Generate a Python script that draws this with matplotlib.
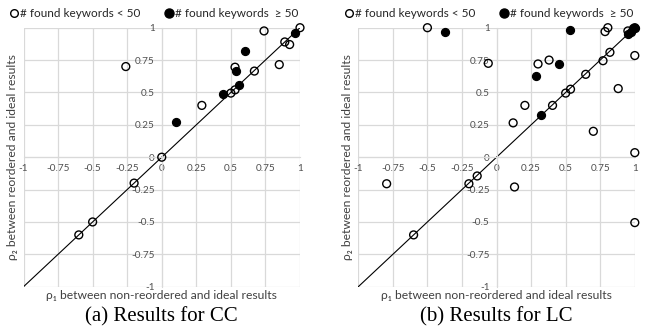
import matplotlib
matplotlib.use("Agg")
import matplotlib.pyplot as plt
from matplotlib.lines import Line2D

plt.rcParams['font.family'] = ['Lato', 'DejaVu Sans']

ticks = [-1, -0.75, -0.5, -0.25, 0, 0.25, 0.5, 0.75, 1]
tick_labels = ['-1', '-0.75', '-0.5', '-0.25', '0', '0.25', '0.5', '0.75', '1']

# CC panel
cc_open_x = [0.0, -0.2, -0.5, -0.6, -0.26, 0.29, 0.5, 0.53, 0.53, 0.67, 0.74, 0.85, 0.89, 0.925, 1.0]
cc_open_y = [0.0, -0.2, -0.5, -0.6, 0.70, 0.40, 0.495, 0.52, 0.695, 0.665, 0.975, 0.715, 0.89, 0.87, 1.0]
cc_fill_x = [0.10, 0.445, 0.54, 0.56, 0.60, 0.965]
cc_fill_y = [0.27, 0.49, 0.665, 0.555, 0.82, 0.96]

# LC panel
lc_open_x = [-0.5, -0.06, 0.12, 0.205, 0.30, 0.38, 0.405, 0.50, 0.535, 0.645, 0.70, 0.77, 0.785, 0.805,
             0.82, 0.88, 0.95, 1.0, 1.0, 1.0, -0.795, -0.2, -0.14, 0.13, -0.6, 1.0]
lc_open_y = [1.0, 0.725, 0.265, 0.40, 0.72, 0.75, 0.40, 0.495, 0.525, 0.64, 0.20, 0.745, 0.97, 1.0,
             0.81, 0.53, 0.975, 0.785, 0.035, 1.0, -0.205, -0.205, -0.145, -0.23, -0.6, -0.505]
lc_fill_x = [-0.375, 0.285, 0.32, 0.45, 0.53, 0.95, 0.975, 0.99, 1.0]
lc_fill_y = [0.97, 0.625, 0.325, 0.72, 0.985, 0.95, 0.965, 0.995, 1.0]

panels = [
    ("(a) Results for CC", cc_open_x, cc_open_y, cc_fill_x, cc_fill_y, 23.5),
    ("(b) Results for LC", lc_open_x, lc_open_y, lc_fill_x, lc_fill_y, 358.3),
]

W, H = 647, 329
fig = plt.figure(figsize=(W / 100, H / 100), dpi=100)

grid_c = '#d9d9d9'
for caption, ox, oy, fx, fy, left_px in panels:
    ax = fig.add_axes([left_px / W, 1 - 286.7 / H, 276.5 / W, 259 / H])
    ax.set_xlim(-1, 1)
    ax.set_ylim(-1, 1)
    ax.set_xticks(ticks)
    ax.set_yticks(ticks)
    ax.set_xticklabels(tick_labels)
    ax.set_yticklabels(tick_labels)
    ax.grid(True, color=grid_c, linewidth=0.9)
    ax.set_axisbelow(True)
    for s in ['top', 'right']:
        ax.spines[s].set_visible(False)
    ax.spines['left'].set_position('zero')
    ax.spines['bottom'].set_position('zero')
    ax.spines['left'].set_color(grid_c)
    ax.spines['bottom'].set_color(grid_c)
    ax.tick_params(length=0, labelsize=7.2, colors='#505050', pad=5)
    ax.plot([-1, 1], [-1, 1], color='black', linewidth=0.8, zorder=2)
    ax.scatter(fx, fy, s=32, facecolor='black', edgecolor='black', linewidth=1.0, zorder=3, clip_on=False)
    ax.scatter(ox, oy, s=32, facecolor='none', edgecolor='black', linewidth=1.0, zorder=4, clip_on=False)
    fig.text((left_px - 11) / W, 1 - 157 / H, 'ρ₂ between reordered and ideal results',
             rotation=90, ha='center', va='center', fontsize=8.7, color='#404040')
    fig.text((left_px + 138) / W, 1 - 295.5 / H, 'ρ₁ between non-reordered and ideal results',
             ha='center', va='center', fontsize=8.7, color='#404040')
    fig.text((left_px + 138) / W, 1 - 316.5 / H, caption, ha='center', va='center',
             fontsize=15, family='Liberation Serif')
    handles = [Line2D([], [], marker='o', linestyle='none', markersize=5.5,
                      markerfacecolor='none', markeredgecolor='black', markeredgewidth=1.0),
               Line2D([], [], marker='o', linestyle='none', markersize=6.5,
                      markerfacecolor='black', markeredgecolor='black')]
    ax.legend(handles, ['# found keywords < 50', '# found keywords  ≥ 50'], ncol=2,
              loc='center', bbox_to_anchor=(0.472, 1 + 14 / 259), frameon=False,
              fontsize=8.5, handletextpad=0.1, columnspacing=2.0, borderaxespad=0,
              borderpad=0, handlelength=0.8, labelcolor='#262626')

fig.savefig('out.png', dpi=100)
